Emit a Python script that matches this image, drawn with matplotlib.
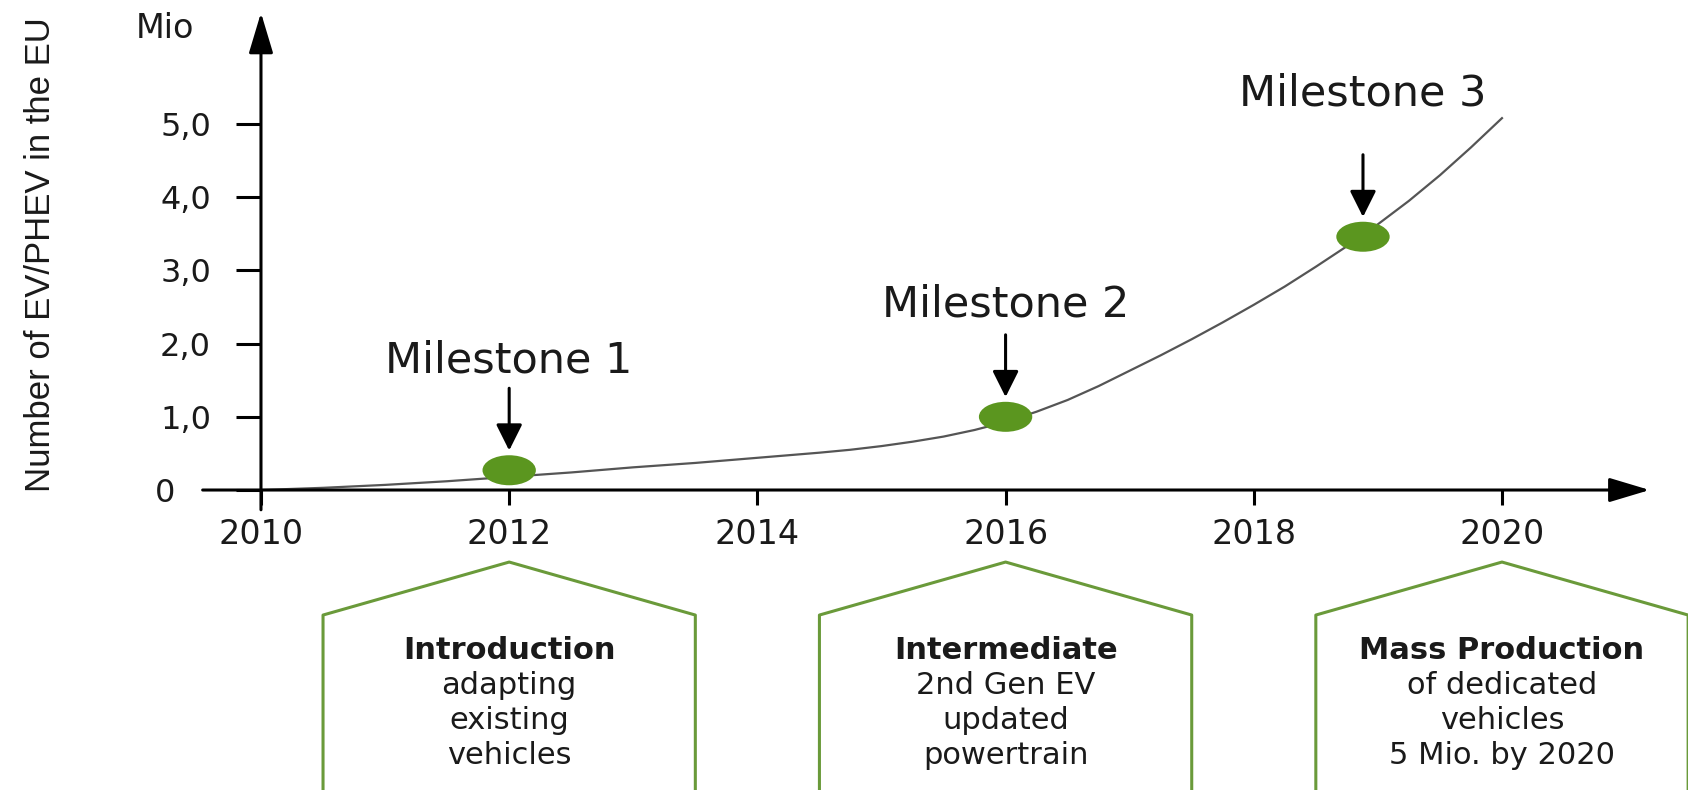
import numpy as np
import matplotlib
matplotlib.use("Agg")
from matplotlib import pyplot as plt
from matplotlib.patches import Ellipse

# data (finer steps where the curve bends)
years = [2010, 2010.5, 2011, 2011.5, 2012, 2012.5, 2013, 2013.5, 2014,
         2014.25, 2014.5, 2014.75, 2015, 2015.25, 2015.5, 2015.75, 2016,
         2016.25, 2016.5, 2016.75, 2017, 2017.25, 2017.5, 2017.75, 2018,
         2018.25, 2018.5, 2018.75, 2019, 2019.25, 2019.5, 2019.75, 2020]
evs = [0, 0.03, 0.07, 0.12, 0.18, 0.24, 0.31, 0.37, 0.44,
       0.475, 0.51, 0.55, 0.60, 0.66, 0.73, 0.82, 0.93,
       1.07, 1.23, 1.42, 1.63, 1.84, 2.06, 2.29, 2.53,
       2.78, 3.05, 3.33, 3.63, 3.95, 4.30, 4.68, 5.08]

ms_year = [2012, 2016, 2018.88]
ms_value = [0.27, 1.0, 3.46]
ms_label = ["Milestone 1", "Milestone 2", "Milestone 3"]

xtick_years = [2010, 2012, 2014, 2016, 2018, 2020]
ytick_vals = [0, 1, 2, 3, 4, 5]
ytick_labels = ["0", "1,0", "2,0", "3,0", "4,0", "5,0"]

stage_year = [2012, 2016, 2020]
stage_title = ["Introduction", "Intermediate", "Mass Production"]
stage_body = [["adapting", "existing", "vehicles"],
              ["2nd Gen EV", "updated", "powertrain"],
              ["of dedicated", "vehicles", "5 Mio. by 2020"]]

# layout
label_off = [1.5, 1.53, 1.95]
green_dot = "#5b961f"
green_box = "#6a9a3a"
txt = "#1a1a1a"

fig = plt.figure(figsize=(16.88, 7.90), dpi=100)
ax = fig.add_axes([0, 0, 1, 1])
ax.set_xlim(2007.897, 2021.499)
ax.set_ylim(-4.098, 6.694)
for s in ax.spines.values():
    s.set_color("none")
ax.spines["left"].set_position(("data", 2010))
ax.spines["bottom"].set_position(("data", 0))

# axis arrows
head = "-|>,head_length=1.0,head_width=0.3"
ax.annotate("", xy=(2021.19, 0), xytext=(2009.53, 0),
            arrowprops=dict(arrowstyle=head, lw=2.2, color="black",
                            mutation_scale=25, shrinkA=0, shrinkB=0))
ax.annotate("", xy=(2010, 6.52), xytext=(2010, -0.27),
            arrowprops=dict(arrowstyle=head, lw=2.2, color="black",
                            mutation_scale=25, shrinkA=0, shrinkB=0))

ax.set_xticks(xtick_years)
ax.set_xticklabels([str(y) for y in xtick_years])
ax.set_yticks(ytick_vals)
ax.set_yticklabels(ytick_labels)
ax.tick_params(axis="x", direction="out", length=11, width=2.2, pad=9,
               labelsize=24, labelcolor=txt)
ax.tick_params(axis="y", direction="out", length=18, width=2.2, pad=18,
               labelsize=23, labelcolor=txt)
t0 = ax.yaxis.get_major_ticks()[0]
t0.set_pad(44)

ax.text(2009.23, 6.31, "Mio", fontsize=24, color=txt, ha="center", va="center")
ax.text(2008.227, 3.21, "Number of EV/PHEV in the EU", rotation=90, fontsize=25,
        color=txt, ha="center", va="center", family="Liberation Sans")

# curve
ax.plot(years, evs, color="#555555", lw=1.6, zorder=2, solid_joinstyle="round")

# milestones
for x, v, lab, off in zip(ms_year, ms_value, ms_label, label_off):
    ax.add_patch(Ellipse((x, v), 0.43, 0.41, facecolor=green_dot,
                         edgecolor="none", zorder=3))
    ax.annotate("", xy=(x, v + 0.27), xytext=(x, v + 1.12),
                arrowprops=dict(arrowstyle="-|>,head_length=0.8,head_width=0.4",
                                lw=2.2, color="black", mutation_scale=20,
                                shrinkA=0, shrinkB=0))
    ax.text(x, v + off, lab, fontsize=31, color=txt, ha="center", va="center")

# stage boxes
hw = 1.5
for c, title, body in zip(stage_year, stage_title, stage_body):
    bx = [c - hw, c - hw, c, c + hw, c + hw]
    by = [-4.3, -1.708, -0.984, -1.708, -4.3]
    ax.plot(bx, by, color=green_box, lw=2.2, clip_on=False)
    ax.text(c, -2.186, title, fontsize=22, fontweight="bold", color=txt,
            ha="center", va="center")
    for i, line in enumerate(body):
        ax.text(c, -2.186 - 0.478 * (i + 1), line, fontsize=22, color=txt,
                ha="center", va="center")

plt.savefig("out.png", dpi=100)
plt.close()
